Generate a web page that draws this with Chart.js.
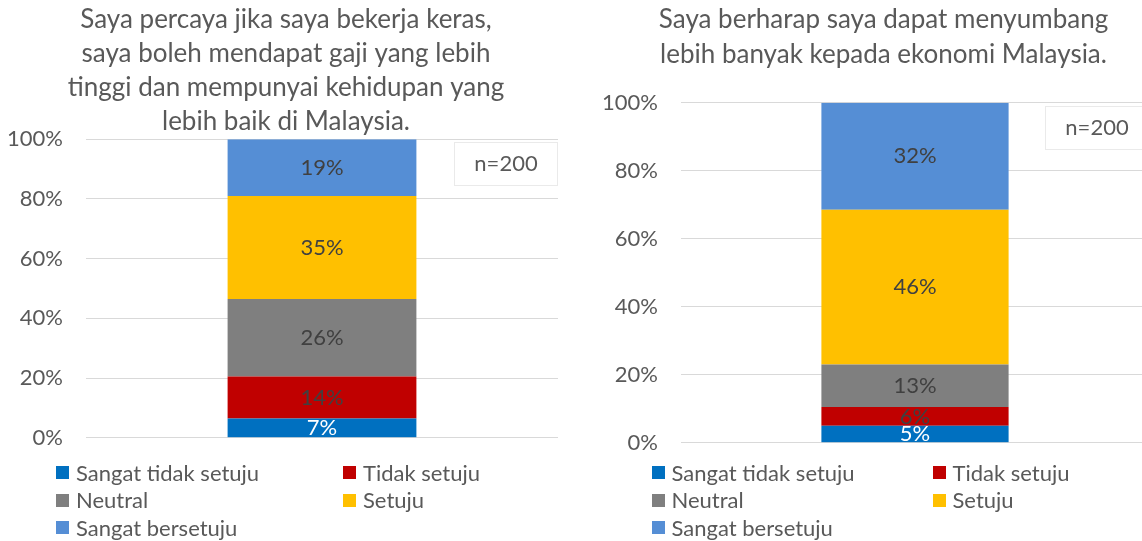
<!DOCTYPE html>
<html><head><meta charset="utf-8">
<script src="https://cdn.jsdelivr.net/npm/chart.js@4/dist/chart.umd.min.js"></script>
<style>
html,body{margin:0;padding:0;background:#fff;}
body{width:1142px;height:541px;overflow:hidden;position:relative;font-family:Lato,sans-serif;}
canvas{position:absolute;top:0;}
#c1{left:0;}
#c2{left:600px;}
.legend{position:absolute;left:0;top:0;font-family:Lato,sans-serif;font-size:22px;color:#595959;}
.item{position:absolute;white-space:nowrap;height:26px;line-height:26px;}
.sw{position:absolute;left:0;top:6.5px;width:13px;height:13px;}
.txt{position:absolute;top:0;}
</style></head><body>
<canvas id="c1" width="558" height="474"></canvas>
<canvas id="c2" width="549" height="479"></canvas>
<div id="lg1" class="legend"></div>
<div id="lg2" class="legend"></div>
<script>
// ---- data ----
const categories = ['Sangat tidak setuju', 'Tidak setuju', 'Neutral', 'Setuju', 'Sangat bersetuju'];
const colors = ['#0070C0', '#C00000', '#7F7F7F', '#FFC000', '#558ED5'];
const labelColors = ['#FFFFFF', '#404040', '#404040', '#404040', '#404040'];
const sampleSize = 200;
const countsChart1 = [13, 28, 52, 69, 38];
const countsChart2 = [10, 11, 25, 91, 63];
const title1 = ['Saya percaya jika saya bekerja keras,', 'saya boleh mendapat gaji yang lebih', 'tinggi dan mempunyai kehidupan yang', 'lebih baik di Malaysia.'];
const title2 = ['Saya berharap saya dapat menyumbang', 'lebih banyak kepada ekonomi Malaysia.'];
const yTicks = [0, 20, 40, 60, 80, 100];
const nLabel = 'n=' + sampleSize;

// ---- plugins ----
const segLabels = {
  id: 'segLabels',
  afterDatasetsDraw(chart) {
    const ctx = chart.ctx;
    chart.data.datasets.forEach((ds, i) => {
      const meta = chart.getDatasetMeta(i);
      meta.data.forEach((bar, j) => {
        const v = ds.data[j];
        const p = bar.getProps(['x', 'y', 'base'], true);
        ctx.save();
        ctx.font = '22px Lato';
        ctx.fillStyle = labelColors[i];
        ctx.textAlign = 'center';
        ctx.textBaseline = 'middle';
        ctx.fillText(Math.round(v) + '%', p.x, (p.y + p.base) / 2);
        ctx.restore();
      });
    });
  }
};
const nBox = {
  id: 'nBox',
  afterDraw(chart) {
    const ctx = chart.ctx, a = chart.chartArea;
    const w = 104, h = 44, x = a.right - w, y = a.top + 3;
    ctx.save();
    ctx.fillStyle = '#FFFFFF';
    ctx.fillRect(x, y, w, h);
    ctx.strokeStyle = '#EAEAEA';
    ctx.lineWidth = 1;
    ctx.strokeRect(Math.round(x) + 0.5, Math.round(y) + 0.5, w - 1, h - 1);
    ctx.font = '22px Lato';
    ctx.fillStyle = '#595959';
    ctx.textAlign = 'center';
    ctx.textBaseline = 'middle';
    ctx.fillText(nLabel, x + w / 2, y + h / 2);
    ctx.restore();
  }
};
const titleShift = {
  id: 'titleShift',
  afterLayout(chart, args, opts) {
    const t = chart.titleBlock;
    if (t && opts.dx) { t.left += opts.dx; t.right += opts.dx; }
  }
};

function makeChart(id, counts, title, o) {
  return new Chart(document.getElementById(id), {
    type: 'bar',
    data: {
      labels: [''],
      datasets: categories.map((c, i) => ({
        label: c,
        data: [counts[i] * 100 / sampleSize],
        backgroundColor: colors[i],
        borderWidth: 0
      }))
    },
    options: {
      responsive: false,
      animation: false,
      devicePixelRatio: 1,
      layout: { padding: { left: 0, right: 0, top: 0, bottom: 0 } },
      datasets: { bar: { categoryPercentage: 1, barPercentage: 0.4 } },
      plugins: {
        legend: { display: false },
        tooltip: { enabled: false },
        titleShift: { dx: o.titleDx },
        title: {
          display: true,
          text: title,
          color: '#595959',
          font: { family: 'Lato', size: 26, weight: 'normal', lineHeight: o.titleLH },
          padding: { top: o.titleTop, bottom: o.titleBottom }
        }
      },
      scales: {
        x: { stacked: true, display: false },
        y: {
          stacked: true,
          min: 0,
          max: 100,
          afterFit: s => { s.width = o.axisW; },
          afterBuildTicks: s => { s.ticks = yTicks.map(v => ({ value: v })); },
          ticks: {
            callback: v => v + '%',
            color: '#595959',
            font: { family: 'Lato', size: 22 },
            padding: 23
          },
          grid: { color: '#D9D9D9', lineWidth: 1, drawTicks: false },
          border: { display: false }
        }
      }
    },
    plugins: [segLabels, nBox, titleShift]
  });
}

function makeLegend(id, col1, col2, rowY, txtOff) {
  const el = document.getElementById(id);
  categories.forEach((c, i) => {
    const col = i % 2, row = Math.floor(i / 2);
    const item = document.createElement('div');
    item.className = 'item';
    item.style.left = (col === 0 ? col1 : col2) + 'px';
    item.style.top = (rowY[row] - 13) + 'px';
    const sw = document.createElement('span');
    sw.className = 'sw';
    sw.style.background = colors[i];
    const t = document.createElement('span');
    t.className = 'txt';
    t.style.left = txtOff + 'px';
    t.textContent = c;
    item.appendChild(sw);
    item.appendChild(t);
    el.appendChild(item);
  });
}

makeChart('c1', countsChart1, title1, { axisW: 86, titleDx: 7, titleLH: '34.3px', titleTop: 2, titleBottom: 0 });
makeChart('c2', countsChart2, title2, { axisW: 81, titleDx: 9, titleLH: '35px', titleTop: 2.5, titleBottom: 30.2 });
makeLegend('lg1', 56, 343, [472.7, 500, 527.7], 20);
makeLegend('lg2', 652, 933, [472.7, 500, 527.7], 19.5);
</script>
</body></html>
